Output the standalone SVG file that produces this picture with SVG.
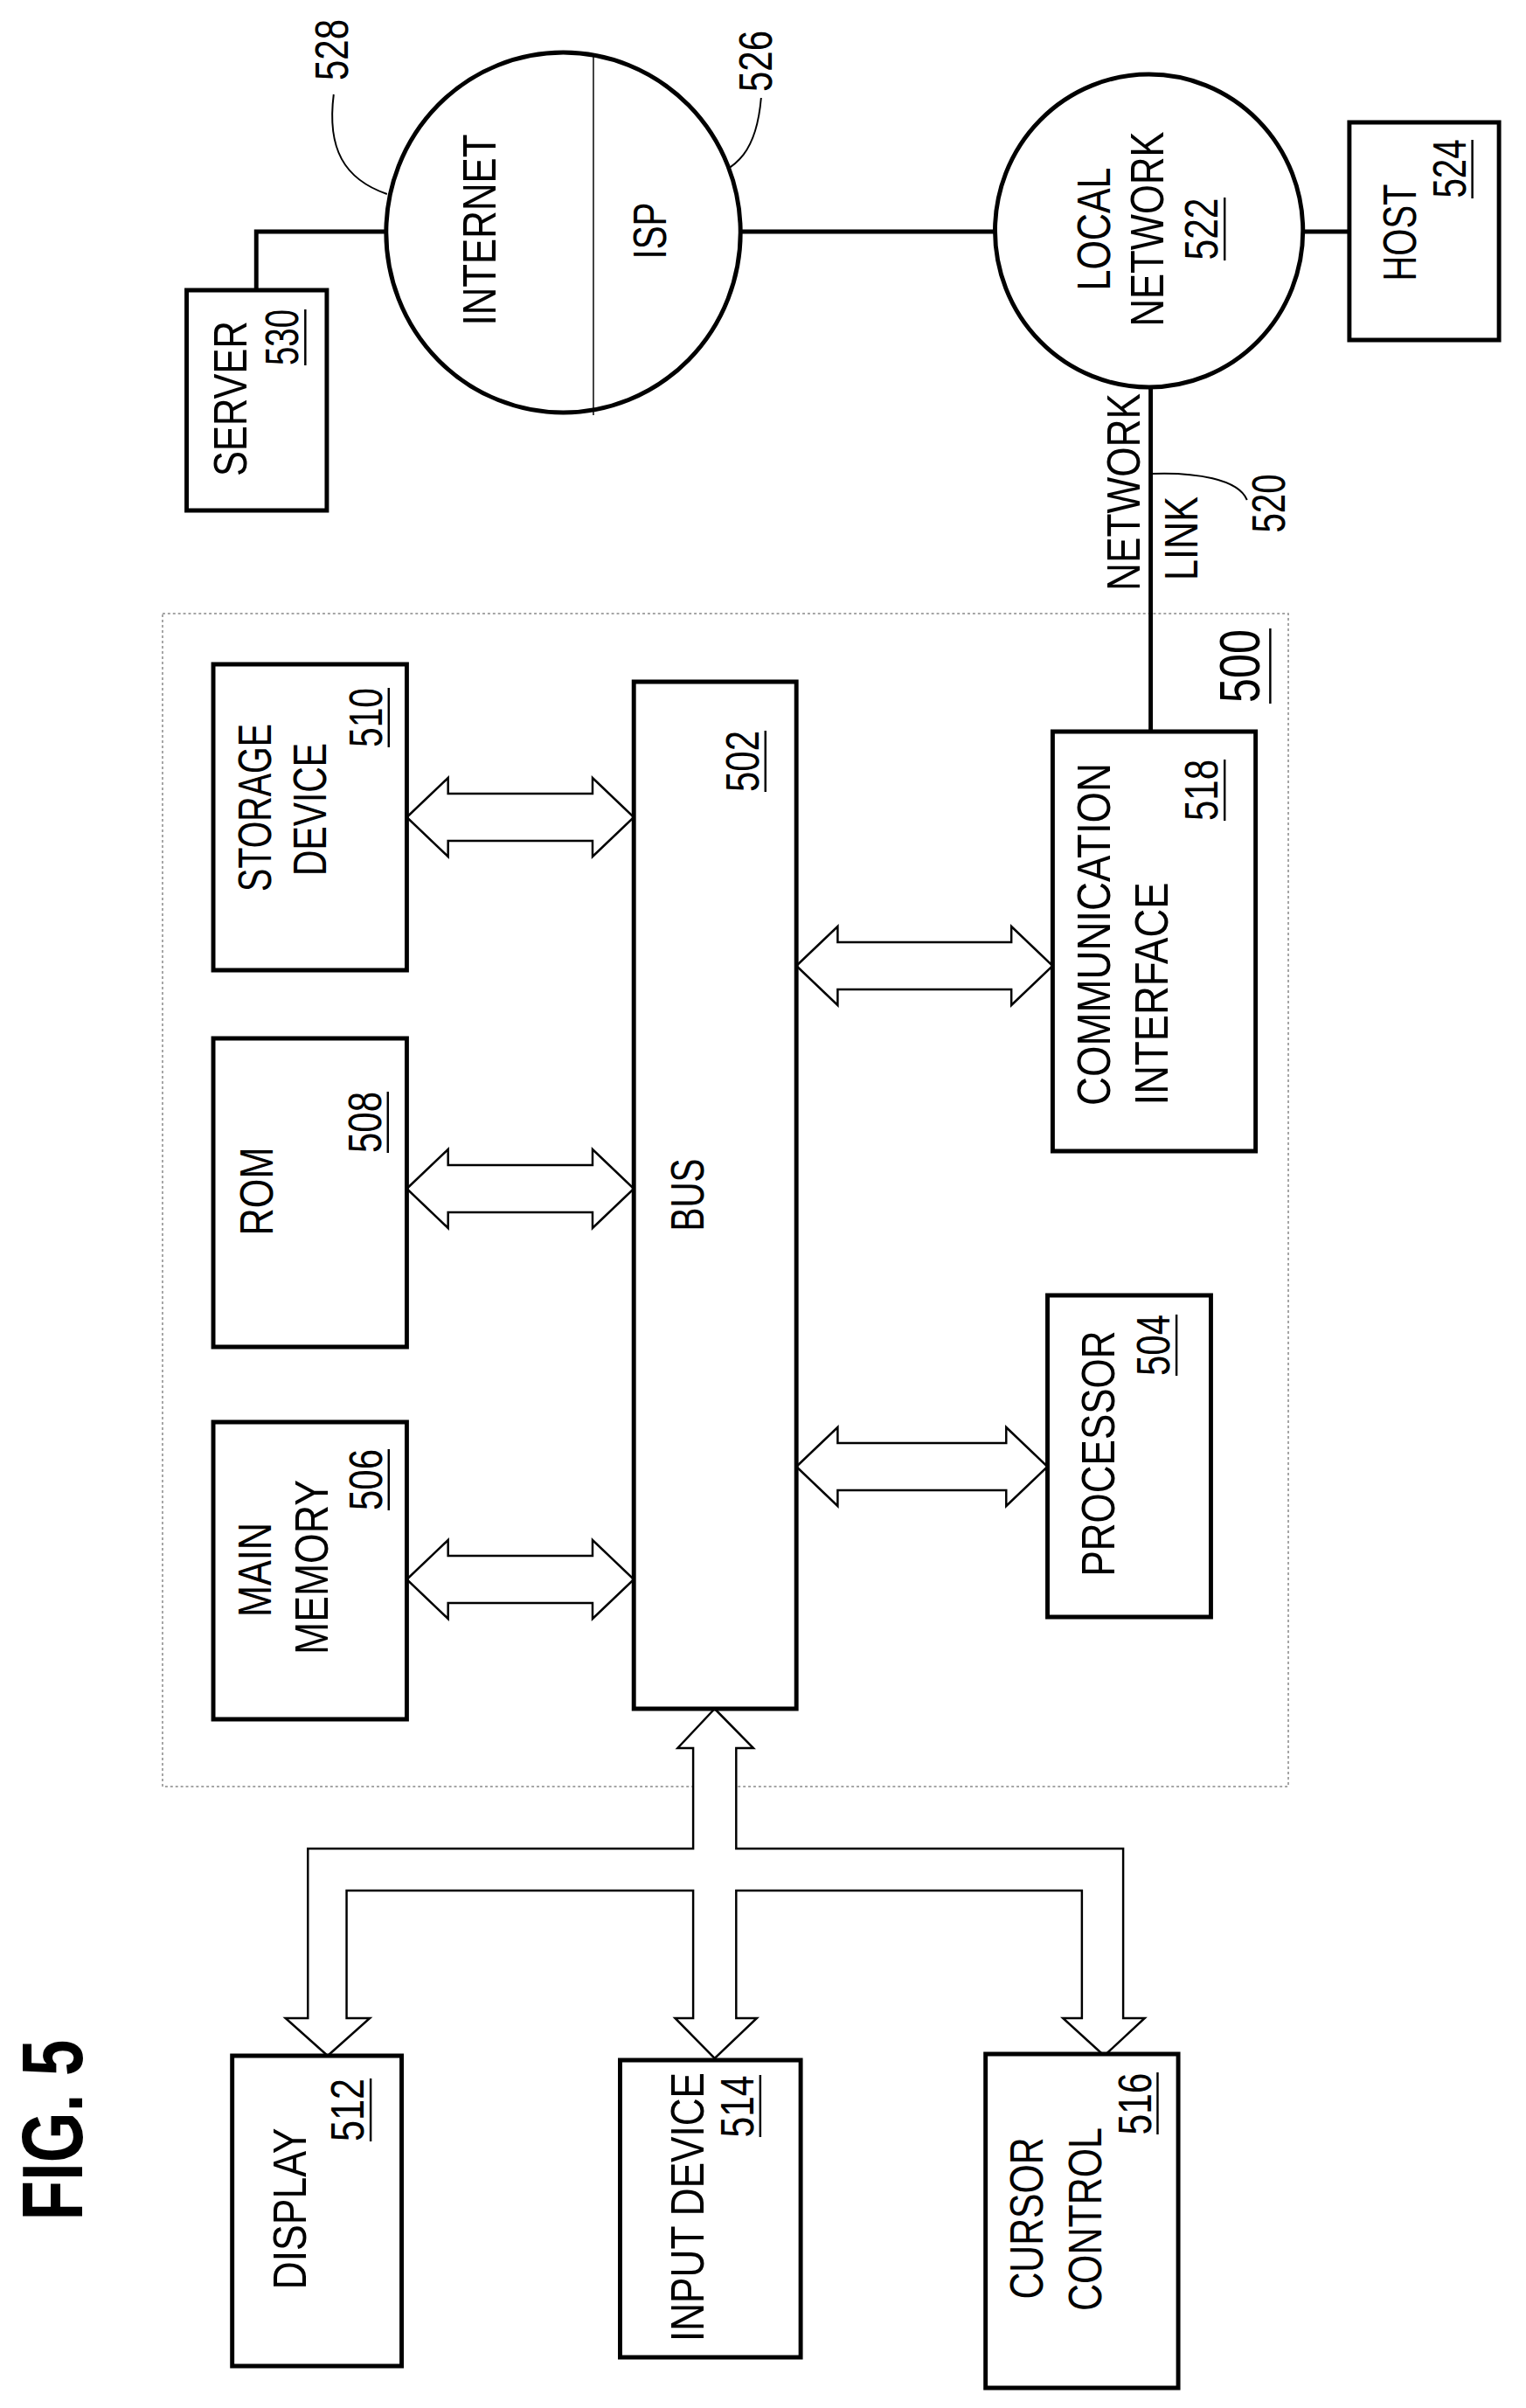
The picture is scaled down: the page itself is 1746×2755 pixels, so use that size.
<svg xmlns="http://www.w3.org/2000/svg" width="1746" height="2755" viewBox="0 0 1746 2755">
<style>
.box{fill:#fff;stroke:#000;stroke-width:5}
.arr{fill:#fff;stroke:#000;stroke-width:2.5;stroke-linejoin:miter}
.ln{fill:none;stroke:#000;stroke-width:5}
.ld{fill:none;stroke:#000;stroke-width:2}
.ul{stroke:#000;stroke-width:2.5}
text{font-family:"Liberation Sans",Arial,sans-serif;font-size:54px;fill:#000;text-anchor:middle}
</style>
<rect width="1746" height="2755" fill="#fff"/>
<g transform="matrix(0.984 0 0 1 0 0)">
<g id="fig-title"><text transform="translate(96,2437) rotate(-90)" style="font-size:100px;font-weight:bold" textLength="207" lengthAdjust="spacingAndGlyphs">FIG. 5</text></g>
<g id="system-500">
<rect x="189" y="702" width="1309" height="1342" fill="none" stroke="#888" stroke-width="1.5" stroke-dasharray="3 3"/>
<text transform="translate(1464,762) rotate(-90)" style="font-size:66px" textLength="84" lengthAdjust="spacingAndGlyphs">500</text>
<line class="ul" x1="1477" y1="719" x2="1477" y2="805"/>
</g>
<g id="connectors">
<path class="ln" d="M448,265 H298 V332"/>
<path class="ln" d="M862,265 H1157"/>
<path class="ln" d="M1515,265 H1569"/>
<path class="ln" d="M1338,442 V837"/>
<path class="ld" d="M388,108 C380,170 400,205 450,222"/>
<path class="ld" d="M885,112 C880,170 860,195 811,208"/>
<path class="ld" d="M1338,542 C1390,540 1440,548 1450,572"/>
<path class="arr" d="M473,935 L521,890 L521,908 L689,908 L689,890 L737,935 L689,980 L689,962 L521,962 L521,980 Z"/>
<path class="arr" d="M473,1360 L521,1315 L521,1333 L689,1333 L689,1315 L737,1360 L689,1405 L689,1387 L521,1387 L521,1405 Z"/>
<path class="arr" d="M473,1807 L521,1762 L521,1780 L689,1780 L689,1762 L737,1807 L689,1852 L689,1834 L521,1834 L521,1852 Z"/>
<path class="arr" d="M926,1105 L974,1060 L974,1078 L1176,1078 L1176,1060 L1224,1105 L1176,1150 L1176,1132 L974,1132 L974,1150 Z"/>
<path class="arr" d="M926,1678 L974,1633 L974,1651 L1170,1651 L1170,1633 L1218,1678 L1170,1723 L1170,1705 L974,1705 L974,1723 Z"/>
<path class="arr" d="M831,1955 L876,2000 L856,2000 L856,2115 L1306,2115 L1306,2309 L1331,2309 L1284,2352 L1236,2309 L1258,2309 L1258,2163 L856,2163 L856,2309 L880,2309 L831,2355 L785,2309 L806,2309 L806,2163 L403,2163 L403,2309 L430,2309 L381,2352 L332,2309 L358,2309 L358,2115 L806,2115 L806,2000 L788,2000 Z"/>
</g>
<g id="internet-isp">
<circle cx="655" cy="266" r="206" fill="#fff" stroke="#000" stroke-width="5"/>
<line x1="690" y1="61" x2="690" y2="475" stroke="#000" stroke-width="1.5"/>
<text transform="translate(576,263) rotate(-90)" textLength="219" lengthAdjust="spacingAndGlyphs">INTERNET</text>
<text transform="translate(774,264) rotate(-90)" textLength="65" lengthAdjust="spacingAndGlyphs">ISP</text>
<text transform="translate(404,57) rotate(-90)" textLength="70" lengthAdjust="spacingAndGlyphs">528</text>
<text transform="translate(897,70) rotate(-90)" textLength="70" lengthAdjust="spacingAndGlyphs">526</text>
</g>
<g id="local-network">
<circle cx="1336" cy="264" r="179" fill="#fff" stroke="#000" stroke-width="5"/>
<text transform="translate(1291,262) rotate(-90)" textLength="141" lengthAdjust="spacingAndGlyphs">LOCAL</text>
<text transform="translate(1353,262) rotate(-90)" textLength="223" lengthAdjust="spacingAndGlyphs">NETWORK</text>
<text transform="translate(1416,262) rotate(-90)" textLength="71" lengthAdjust="spacingAndGlyphs">522</text>
<line class="ul" x1="1424" y1="226" x2="1424" y2="298"/>
</g>
<g id="host">
<rect class="box" x="1569" y="140" width="174" height="249"/>
<text transform="translate(1646,266) rotate(-90)" textLength="111" lengthAdjust="spacingAndGlyphs">HOST</text>
<text transform="translate(1704,193) rotate(-90)" textLength="67" lengthAdjust="spacingAndGlyphs">524</text>
<line class="ul" x1="1712" y1="160" x2="1712" y2="227"/>
</g>
<g id="server">
<rect class="box" x="217" y="332" width="163" height="252"/>
<text transform="translate(287,456) rotate(-90)" textLength="178" lengthAdjust="spacingAndGlyphs">SERVER</text>
<text transform="translate(347,386) rotate(-90)" textLength="64" lengthAdjust="spacingAndGlyphs">530</text>
<line class="ul" x1="355" y1="354" x2="355" y2="418"/>
</g>
<g id="network-link">
<text transform="translate(1325,563) rotate(-90)" textLength="226" lengthAdjust="spacingAndGlyphs">NETWORK</text>
<text transform="translate(1392,616) rotate(-90)" textLength="96" lengthAdjust="spacingAndGlyphs">LINK</text>
<text transform="translate(1494,576) rotate(-90)" textLength="67" lengthAdjust="spacingAndGlyphs">520</text>
</g>
<g id="storage">
<rect class="box" x="248" y="760" width="225" height="350"/>
<text transform="translate(315,924) rotate(-90)" textLength="192" lengthAdjust="spacingAndGlyphs">STORAGE</text>
<text transform="translate(379,926) rotate(-90)" textLength="152" lengthAdjust="spacingAndGlyphs">DEVICE</text>
<text transform="translate(444,821) rotate(-90)" textLength="68" lengthAdjust="spacingAndGlyphs">510</text>
<line class="ul" x1="452" y1="787" x2="452" y2="855"/>
</g>
<g id="rom">
<rect class="box" x="248" y="1188" width="225" height="353"/>
<text transform="translate(317,1363) rotate(-90)" textLength="101" lengthAdjust="spacingAndGlyphs">ROM</text>
<text transform="translate(443,1284) rotate(-90)" textLength="70" lengthAdjust="spacingAndGlyphs">508</text>
<line class="ul" x1="451" y1="1249" x2="451" y2="1319"/>
</g>
<g id="main-memory">
<rect class="box" x="248" y="1627" width="225" height="340"/>
<text transform="translate(315,1796) rotate(-90)" textLength="108" lengthAdjust="spacingAndGlyphs">MAIN</text>
<text transform="translate(381,1793) rotate(-90)" textLength="200" lengthAdjust="spacingAndGlyphs">MEMORY</text>
<text transform="translate(444,1693) rotate(-90)" textLength="70" lengthAdjust="spacingAndGlyphs">506</text>
<line class="ul" x1="452" y1="1658" x2="452" y2="1728"/>
</g>
<g id="bus">
<rect class="box" x="737" y="780" width="189" height="1175"/>
<text transform="translate(818,1367) rotate(-90)" textLength="83" lengthAdjust="spacingAndGlyphs">BUS</text>
<text transform="translate(882,871) rotate(-90)" textLength="70" lengthAdjust="spacingAndGlyphs">502</text>
<line class="ul" x1="890" y1="836" x2="890" y2="906"/>
</g>
<g id="comm-interface">
<rect class="box" x="1224" y="837" width="236" height="480"/>
<text transform="translate(1291,1069) rotate(-90)" textLength="392" lengthAdjust="spacingAndGlyphs">COMMUNICATION</text>
<text transform="translate(1358,1137) rotate(-90)" textLength="255" lengthAdjust="spacingAndGlyphs">INTERFACE</text>
<text transform="translate(1416,904) rotate(-90)" textLength="70" lengthAdjust="spacingAndGlyphs">518</text>
<line class="ul" x1="1424" y1="869" x2="1424" y2="939"/>
</g>
<g id="processor">
<rect class="box" x="1218" y="1482" width="190" height="368"/>
<text transform="translate(1296,1663) rotate(-90)" textLength="281" lengthAdjust="spacingAndGlyphs">PROCESSOR</text>
<text transform="translate(1360,1539) rotate(-90)" textLength="70" lengthAdjust="spacingAndGlyphs">504</text>
<line class="ul" x1="1368" y1="1504" x2="1368" y2="1574"/>
</g>
<g id="display">
<rect class="box" x="270" y="2352" width="197" height="355"/>
<text transform="translate(356,2527) rotate(-90)" textLength="185" lengthAdjust="spacingAndGlyphs">DISPLAY</text>
<text transform="translate(423,2414) rotate(-90)" textLength="72" lengthAdjust="spacingAndGlyphs">512</text>
<line class="ul" x1="431" y1="2378" x2="431" y2="2450"/>
</g>
<g id="input-device">
<rect class="box" x="721" y="2357" width="210" height="340"/>
<text transform="translate(818,2525) rotate(-90)" textLength="308" lengthAdjust="spacingAndGlyphs">INPUT DEVICE</text>
<text transform="translate(876,2410) rotate(-90)" textLength="71" lengthAdjust="spacingAndGlyphs">514</text>
<line class="ul" x1="884" y1="2374" x2="884" y2="2445"/>
</g>
<g id="cursor-control">
<rect class="box" x="1146" y="2350" width="224" height="382"/>
<text transform="translate(1212,2538) rotate(-90)" textLength="185" lengthAdjust="spacingAndGlyphs">CURSOR</text>
<text transform="translate(1280,2539) rotate(-90)" textLength="210" lengthAdjust="spacingAndGlyphs">CONTROL</text>
<text transform="translate(1338,2407) rotate(-90)" textLength="71" lengthAdjust="spacingAndGlyphs">516</text>
<line class="ul" x1="1346" y1="2371" x2="1346" y2="2442"/>
</g>
</g>
</svg>
